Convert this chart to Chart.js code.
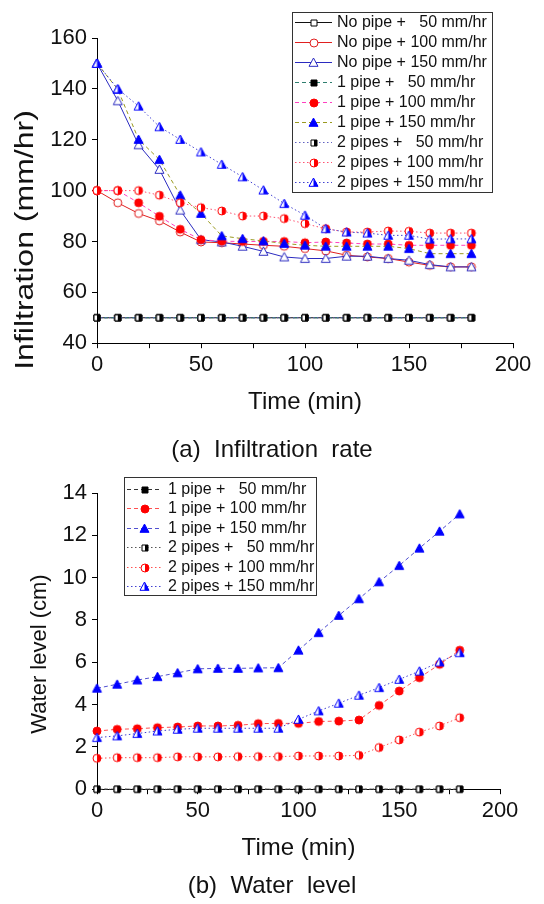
<!DOCTYPE html>
<html>
<head>
<meta charset="utf-8">
<script src="https://cdn.jsdelivr.net/npm/chart.js@4.4.1/dist/chart.umd.min.js"></script>
<style>
  html, body { margin: 0; padding: 0; background: #fff; }
  canvas { display: block; }
</style>
</head>
<body>
<canvas id="rateChart" width="544" height="465"></canvas>
<canvas id="levelChart" width="544" height="439"></canvas>
<script>
const TIME = [0, 10, 20, 30, 40, 50, 60, 70, 80, 90, 100, 110, 120, 130, 140, 150, 160, 170, 180];

// (a) infiltration rate, mm/hr
const NO_PIPE_50 = [50, 50, 50, 50, 50, 50, 50, 50, 50, 50, 50, 50, 50, 50, 50, 50, 50, 50, 50];
const NO_PIPE_100 = [100, 95.2, 91, 88.1, 83.7, 79.8, 79.5, 79, 78.5, 78.1, 77.2, 76.3, 74.6, 73.9, 73.3, 71.9, 70.6, 70, 70];
const NO_PIPE_150 = [150, 135.3, 118, 108.3, 92.3, 80.7, 79.8, 78.1, 76.1, 73.9, 73.3, 73.3, 74.2, 74.2, 73.3, 72.6, 70.9, 70, 70];
const ONE_PIPE_50 = [50, 50, 50, 50, 50, 50, 50, 50, 50, 50, 50, 50, 50, 50, 50, 50, 50, 50, 50];
const ONE_PIPE_100 = [100, 100, 95.2, 89.9, 84.8, 80.7, 80.1, 80, 80, 80, 79.5, 79.8, 79.4, 79, 79, 78.5, 78.5, 78.5, 78.5];
const ONE_PIPE_150 = [150, 139.8, 120.1, 112.2, 98.2, 91, 82.2, 81.1, 80.2, 79.2, 78.5, 78.1, 78.1, 78.1, 78.1, 77.2, 75.2, 75.2, 75.2];
const TWO_PIPES_50 = [50, 50, 50, 50, 50, 50, 50, 50, 50, 50, 50, 50, 50, 50, 50, 50, 50, 50, 50];
const TWO_PIPES_100 = [100, 100, 100, 98.2, 95.2, 93.3, 92, 90, 90, 89, 87, 85, 83.7, 83.7, 84.1, 84, 83.3, 83.3, 83.3];
const TWO_PIPES_150 = [150, 140, 133.2, 125.1, 120.1, 115.2, 110.3, 105.4, 100.2, 94.9, 90.3, 85, 83.7, 83.3, 82.4, 82.4, 80.9, 81, 81];

// (b) water level, cm
const LVL_ONE_PIPE_50 = [0, 0, 0, 0, 0, 0, 0, 0, 0, 0, 0, 0, 0, 0, 0, 0, 0, 0, 0];
const LVL_ONE_PIPE_100 = [2.75, 2.83, 2.86, 2.91, 2.94, 2.99, 2.99, 3.02, 3.1, 3.11, 3.11, 3.2, 3.22, 3.27, 3.96, 4.64, 5.27, 5.9, 6.57];
const LVL_ONE_PIPE_150 = [4.77, 4.96, 5.16, 5.32, 5.5, 5.69, 5.71, 5.71, 5.73, 5.74, 6.57, 7.4, 8.21, 9.0, 9.8, 10.57, 11.39, 12.19, 13.01];
const LVL_TWO_PIPES_50 = [0, 0, 0, 0, 0, 0, 0, 0, 0, 0, 0, 0, 0, 0, 0, 0, 0, 0, 0];
const LVL_TWO_PIPES_100 = [1.46, 1.49, 1.49, 1.49, 1.53, 1.53, 1.53, 1.54, 1.54, 1.54, 1.57, 1.57, 1.57, 1.6, 1.97, 2.33, 2.7, 2.99, 3.38];
const LVL_TWO_PIPES_150 = [2.44, 2.52, 2.63, 2.75, 2.83, 2.88, 2.88, 2.88, 2.88, 2.88, 3.3, 3.7, 4.06, 4.44, 4.8, 5.19, 5.58, 6.01, 6.45];

const FONT = "'Liberation Sans', Arial, sans-serif";
const DASHED = [4, 3];
const DOTTED = [1.5, 2.5];

Chart.defaults.font.family = FONT;
Chart.defaults.color = "#111";

function makeMarker(shape, color, fill, size) {
  const pad = 2;
  const c = document.createElement("canvas");
  c.width = size + pad * 2;
  c.height = size + pad * 2;
  const ctx = c.getContext("2d");
  const cx = c.width / 2;
  const cy = c.height / 2;
  const r = size / 2;
  function path() {
    ctx.beginPath();
    if (shape === "square") {
      ctx.rect(cx - r, cy - r, size, size);
    } else if (shape === "circle") {
      ctx.arc(cx, cy, r, 0, Math.PI * 2);
    } else {
      ctx.moveTo(cx, cy - r);
      ctx.lineTo(cx + r, cy + r * 0.85);
      ctx.lineTo(cx - r, cy + r * 0.85);
      ctx.closePath();
    }
  }
  path();
  ctx.fillStyle = fill === "full" ? color : "#fff";
  ctx.fill();
  if (fill === "half") {
    ctx.save();
    path();
    ctx.clip();
    ctx.fillStyle = color;
    ctx.fillRect(cx, 0, c.width, c.height);
    ctx.restore();
  }
  path();
  ctx.lineWidth = 1;
  ctx.strokeStyle = color;
  ctx.stroke();
  return c;
}

function series(label, values, lineColor, dash, marker, n, i) {
  return {
    label,
    data: values.map((v, k) => ({ x: TIME[k], y: v })),
    borderColor: lineColor,
    backgroundColor: lineColor,
    borderWidth: 1,
    borderDash: dash,
    pointStyle: marker,
    pointRadius: 5,
    tension: 0,
    fill: false,
    clip: false,
    order: n - i
  };
}

// legend with line sample + marker inside a framed box
const boxLegend = {
  id: "boxLegend",
  afterDraw(chart, args, opts) {
    const ctx = chart.ctx;
    const sets = chart.data.datasets;
    ctx.save();
    ctx.fillStyle = "#fff";
    ctx.fillRect(opts.left, opts.top, opts.width, opts.height);
    ctx.strokeStyle = "#333";
    ctx.lineWidth = 1;
    ctx.strokeRect(opts.left + 0.5, opts.top + 0.5, opts.width, opts.height);
    sets.forEach((ds, i) => {
      const y = Math.round(opts.top + opts.firstRow + i * opts.rowHeight) + 0.5;
      const x0 = opts.left + opts.sampleLeft;
      ctx.beginPath();
      ctx.setLineDash(ds.borderDash || []);
      ctx.strokeStyle = ds.borderColor;
      ctx.moveTo(x0, y);
      ctx.lineTo(x0 + opts.sampleWidth, y);
      ctx.stroke();
      ctx.setLineDash([]);
      const m = ds.pointStyle;
      ctx.drawImage(m, Math.round(x0 + opts.sampleWidth / 2 - m.width / 2), Math.round(y - m.height / 2));
      ctx.fillStyle = "#111";
      ctx.font = opts.font;
      ctx.textBaseline = "middle";
      ctx.fillText(ds.label, opts.left + opts.textLeft, y);
    });
    ctx.restore();
  }
};

// rotated y-axis title, placed and stretched like the original figure
const sideTitle = {
  id: "sideTitle",
  afterDraw(chart, args, opts) {
    const ctx = chart.ctx;
    ctx.save();
    ctx.translate(opts.x, opts.y);
    ctx.rotate(-Math.PI / 2);
    ctx.scale(opts.stretch || 1, 1);
    ctx.font = opts.size + "px " + FONT;
    ctx.fillStyle = "#111";
    ctx.textAlign = "center";
    ctx.textBaseline = "middle";
    ctx.fillText(opts.text, 0, 0);
    ctx.restore();
  }
};

function axisX() {
  return {
    type: "linear",
    min: 0,
    max: 200,
    afterFit(scale) { scale.height = 80; },
    border: { display: true, color: "#000", width: 1 },
    grid: { drawOnChartArea: false, drawTicks: true, tickLength: 5, color: "#000" },
    ticks: {
      stepSize: 25,
      padding: 4,
      font: { size: 22 },
      color: "#111",
      maxRotation: 0,
      callback: (v) => (v % 50 === 0 ? v : "")
    },
    title: { display: true, text: "Time (min)", font: { size: 24 }, color: "#111", padding: { top: 4, bottom: 6 } }
  };
}

function axisY(min, max, step, labelStep) {
  return {
    type: "linear",
    min,
    max,
    afterFit(scale) { scale.width = 97; },
    border: { display: true, color: "#000", width: 1 },
    grid: { drawOnChartArea: false, drawTicks: true, tickLength: 5, color: "#000" },
    ticks: {
      stepSize: step,
      padding: 5,
      font: { size: 22 },
      color: "#111",
      callback: (v) => (Math.abs(v / labelStep - Math.round(v / labelStep)) < 1e-6 ? v : "")
    }
  };
}

// empty right-hand box so the caption centres on the page, not the plot
function rightGap(width) {
  return {
    type: "linear",
    position: "right",
    display: true,
    afterFit(scale) { scale.width = width; },
    grid: { display: false },
    border: { display: false },
    ticks: { display: false }
  };
}

const rateSets = [
  ["No pipe +   50 mm/hr", NO_PIPE_50, "#111111", [], makeMarker("square", "#000", "open", 6)],
  ["No pipe + 100 mm/hr", NO_PIPE_100, "#e02020", [], makeMarker("circle", "#e02020", "open", 8)],
  ["No pipe + 150 mm/hr", NO_PIPE_150, "#2b2bc0", [], makeMarker("triangle", "#2b2bc0", "open", 9)],
  ["1 pipe +   50 mm/hr", ONE_PIPE_50, "#2f7f6f", DASHED, makeMarker("square", "#000", "full", 6)],
  ["1 pipe + 100 mm/hr", ONE_PIPE_100, "#ff40c0", DASHED, makeMarker("circle", "#ff0000", "full", 8)],
  ["1 pipe + 150 mm/hr", ONE_PIPE_150, "#9a9a20", DASHED, makeMarker("triangle", "#0000ff", "full", 9)],
  ["2 pipes +   50 mm/hr", TWO_PIPES_50, "#6060c0", DOTTED, makeMarker("square", "#000", "half", 6)],
  ["2 pipes + 100 mm/hr", TWO_PIPES_100, "#ff5070", DOTTED, makeMarker("circle", "#ff0000", "half", 8)],
  ["2 pipes + 150 mm/hr", TWO_PIPES_150, "#4040d0", DOTTED, makeMarker("triangle", "#0000ff", "half", 9)]
];

const levelSets = [
  ["1 pipe +   50 mm/hr", LVL_ONE_PIPE_50, "#333333", DASHED, makeMarker("square", "#000", "full", 6)],
  ["1 pipe + 100 mm/hr", LVL_ONE_PIPE_100, "#ff5050", DASHED, makeMarker("circle", "#ff0000", "full", 8)],
  ["1 pipe + 150 mm/hr", LVL_ONE_PIPE_150, "#5050d0", DASHED, makeMarker("triangle", "#0000ff", "full", 9)],
  ["2 pipes +   50 mm/hr", LVL_TWO_PIPES_50, "#555555", DOTTED, makeMarker("square", "#000", "half", 6)],
  ["2 pipes + 100 mm/hr", LVL_TWO_PIPES_100, "#ff5050", DOTTED, makeMarker("circle", "#ff0000", "half", 8)],
  ["2 pipes + 150 mm/hr", LVL_TWO_PIPES_150, "#4040d0", DOTTED, makeMarker("triangle", "#0000ff", "half", 9)]
];

new Chart(document.getElementById("rateChart"), {
  type: "line",
  data: {
    datasets: rateSets.map((s, i) => series(s[0], s[1], s[2], s[3], s[4], rateSets.length, i))
  },
  options: {
    responsive: false,
    animation: false,
    events: [],
    layout: { padding: { top: 38, left: 0, right: 0, bottom: 0 } },
    scales: {
      x: axisX(),
      y: axisY(40, 160, 10, 20),
      gap: rightGap(31)
    },
    plugins: {
      legend: { display: false },
      tooltip: { enabled: false },
      title: {
        display: true,
        position: "bottom",
        text: "(a)  Infiltration  rate",
        font: { size: 24, weight: "normal" },
        color: "#111",
        padding: { top: 13, bottom: 0 }
      },
      sideTitle: { text: "Infiltration (mm/hr)", x: 26, y: 240, size: 25, stretch: 1.28 },
      boxLegend: {
        left: 292, top: 12, width: 200, height: 180,
        firstRow: 10, rowHeight: 20,
        sampleLeft: 3, sampleWidth: 37, textLeft: 45,
        font: "16px " + FONT
      }
    }
  },
  plugins: [boxLegend, sideTitle]
});

new Chart(document.getElementById("levelChart"), {
  type: "line",
  data: {
    datasets: levelSets.map((s, i) => series(s[0], s[1], s[2], s[3], s[4], levelSets.length, i))
  },
  options: {
    responsive: false,
    animation: false,
    events: [],
    layout: { padding: { top: 28, left: 0, right: 0, bottom: 0 } },
    scales: {
      x: axisX(),
      y: axisY(0, 14, 1, 2),
      gap: rightGap(44)
    },
    plugins: {
      legend: { display: false },
      tooltip: { enabled: false },
      title: {
        display: true,
        position: "bottom",
        text: "(b)  Water  level",
        font: { size: 24, weight: "normal" },
        color: "#111",
        padding: { top: 3, bottom: 3 }
      },
      sideTitle: { text: "Water level (cm)", x: 40, y: 189, size: 22, stretch: 1 },
      boxLegend: {
        left: 124, top: 12, width: 192, height: 118,
        firstRow: 12, rowHeight: 19.4,
        sampleLeft: 3, sampleWidth: 35, textLeft: 44,
        font: "16px " + FONT
      }
    }
  },
  plugins: [boxLegend, sideTitle]
});
</script>
</body>
</html>
